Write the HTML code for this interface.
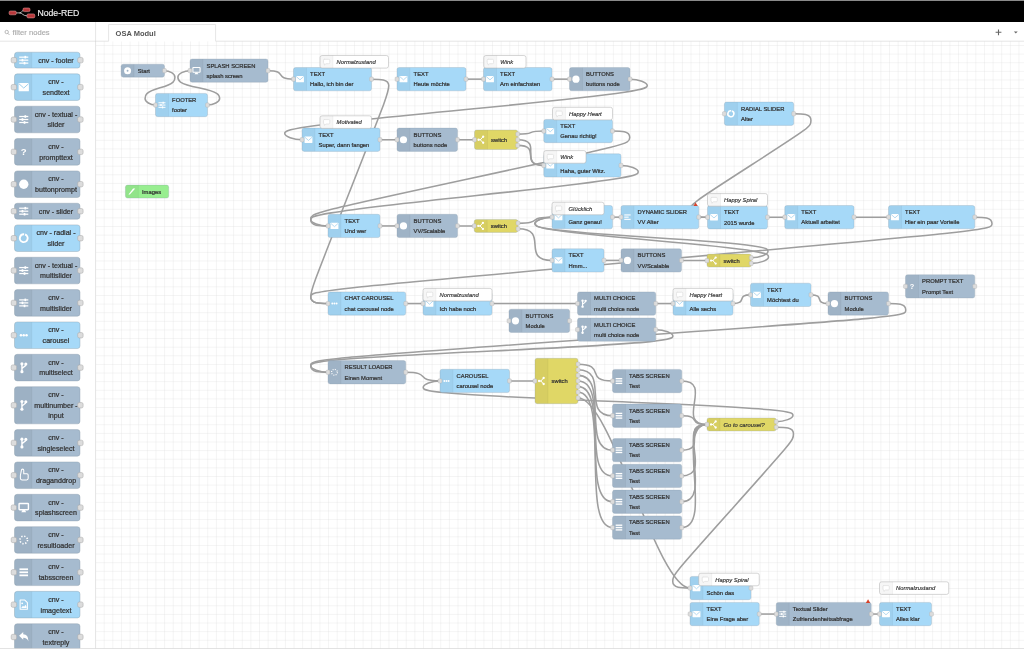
<!DOCTYPE html>
<html lang="de"><head><meta charset="utf-8"><title>Node-RED</title>
<style>html,body{margin:0;padding:0;background:#fff}body{width:1024px;height:649px;overflow:hidden;position:relative}svg{display:block;position:absolute;left:0;top:0}text{font-family:'Liberation Sans', sans-serif}.l{font-size:5.82px;fill:#333;stroke:#333;stroke-width:.24px}.li{font-size:5.82px;fill:#333;font-style:italic;stroke:#333;stroke-width:.16px}.p{font-size:7.1px;fill:#333;text-anchor:middle;stroke:#333;stroke-width:.24px}.n{stroke:#8a9aa8;stroke-opacity:.7;stroke-width:.4}.pt{fill:#dcdcdc;stroke:#aaa;stroke-width:.35}.w{fill:none;stroke:#9e9e9e;stroke-width:1.55}</style></head><body>
<svg width="1024" height="649" viewBox="0 0 1024 649">
<defs><pattern id="grid" x="95.07" y="45.0" width="8.63" height="8.62" patternUnits="userSpaceOnUse"><path d="M0 0H8.63M0 0V8.62" fill="none" stroke="#dedede" stroke-width=".6"/></pattern><filter id="soft" x="0" y="0" width="100%" height="100%" filterUnits="userSpaceOnUse" primitiveUnits="userSpaceOnUse"><feGaussianBlur stdDeviation="0.5"/></filter></defs>
<g filter="url(#soft)">
<rect x="0" y="0" width="1024" height="649" fill="#fff"/>
<rect x="96" y="41.3" width="928" height="608" fill="url(#grid)"/>
<g class="w">
<path d="M164.5 70.68C169.72 70.68 174.93 73.91 174.93 77.15S174.93 83.62 160 87.86S145.07 95.34 145.07 98.58S150.28 105.05 155.5 105.05"/>
<path d="M207.5 105.05C213.56 105.05 219.63 101.81 219.63 98.58S219.63 92.11 198.75 87.85S177.87 80.36 177.87 77.12S183.94 70.65 190 70.65"/>
<path d="M268 70.65C288.16 70.65 273.34 79.15 293.5 79.15"/>
<path d="M371.5 79.15C380.13 79.15 388.76 79.15 388.76 85.62S388.76 92.09 349.75 191.35S310.74 290.6 310.74 297.08S319.37 303.55 328 303.55"/>
<path d="M466 79.15C479.12 79.15 470.38 79.15 483.5 79.15"/>
<path d="M552 79.15C565.12 79.15 556.38 79.15 569.5 79.15"/>
<path d="M630 79.15C638.63 79.15 647.26 82.39 647.26 85.62S647.26 92.09 466 109.45S284.74 130.04 284.74 133.28S293.37 139.75 302 139.75"/>
<path d="M380 139.75C392.75 139.75 384.25 139.75 397 139.75"/>
<path d="M457.5 139.75C470.25 139.75 461.75 139.75 474.5 139.75"/>
<path d="M517.7 134.14C537.37 134.14 524.08 131.05 543.75 131.05"/>
<path d="M517.7 139.75C545.15 139.75 516.3 165.45 543.75 165.45"/>
<path d="M517.7 145.36C542.37 145.36 519.08 165.45 543.75 165.45"/>
<path d="M612.5 131.05C621.13 131.05 629.76 131.05 629.76 137.52S629.76 144 470.25 178.5S310.74 213.01 310.74 219.48S319.37 225.95 328 225.95"/>
<path d="M621 165.45C629.63 165.45 638.26 168.69 638.26 171.92S638.26 178.4 474.5 195.7S310.74 216.24 310.74 219.48S319.37 225.95 328 225.95"/>
<path d="M380 225.95C392.75 225.95 384.25 225.95 397 225.95"/>
<path d="M457.5 225.95C470.06 225.95 461.69 225.97 474.25 225.97"/>
<path d="M518 223.17C543.9 223.17 526.1 217.15 552 217.15"/>
<path d="M518 228.78C550.36 228.78 519.64 260.4 552 260.4"/>
<path d="M612.5 217.15C618.88 217.15 614.62 217.15 621 217.15"/>
<path d="M698.75 217.15C705.31 217.15 700.94 217.25 707.5 217.25"/>
<path d="M793.7 113.75C802.33 113.75 810.96 113.75 810.96 120.22S810.96 126.69 750.6 165.5S690.24 204.31 690.24 210.78S698.87 217.25 707.5 217.25"/>
<path d="M767.5 217.25C780.44 217.25 771.81 217.15 784.75 217.15"/>
<path d="M854 217.15C879.88 217.15 862.62 217.15 888.5 217.15"/>
<path d="M974.75 217.15C983.38 217.15 992.01 217.15 992.01 223.62S992.01 230.09 651.38 260.35S310.74 290.6 310.74 297.08S319.37 303.55 328 303.55"/>
<path d="M604 260.4C616.75 260.4 608.25 260.4 621 260.4"/>
<path d="M681.5 260.4C700.63 260.4 687.87 260.57 707 260.57"/>
<path d="M751.25 257.77C759.63 257.77 768 254.53 768 251.3S768 244.83 651.62 237.46S535.25 226.86 535.25 223.62S543.62 217.15 552 217.15"/>
<path d="M751.25 263.38C759.88 263.38 768.51 260.14 768.51 256.91S768.51 250.43 651.62 240.26S534.74 226.86 534.74 223.62S543.37 217.15 552 217.15"/>
<path d="M405.75 303.55C418.69 303.55 410.06 303.55 423 303.55"/>
<path d="M492 303.55C524.36 303.55 545.14 303.55 577.5 303.55"/>
<path d="M655.75 303.55C668.69 303.55 660.06 303.55 673 303.55"/>
<path d="M733 303.55C747.66 303.55 735.84 294.85 750.5 294.85"/>
<path d="M811 294.85C825.32 294.85 813.68 303.55 828 303.55"/>
<path d="M888.5 303.55C897.13 303.55 905.76 303.55 905.76 310.02S905.76 316.5 608.25 337.9S310.74 359.3 310.74 365.78S319.37 372.25 328 372.25"/>
<path d="M655.75 329.65C664.33 329.65 672.9 332.89 672.9 336.12S672.9 342.6 491.88 350.95S310.85 362.54 310.85 365.78S319.43 372.25 328 372.25"/>
<path d="M405.75 372.25C432.25 372.25 413.5 380.95 440 380.95"/>
<path d="M509.5 380.95C528.63 380.95 515.87 381 535 381"/>
<path d="M578 397.83C610.36 397.83 657.64 588.05 690 588.05"/>
<path d="M776.2 421.67C784.59 421.67 792.97 418.43 792.97 415.2S792.97 408.73 608.1 401.31S423.23 390.66 423.23 387.42S431.61 380.95 440 380.95"/>
<path d="M776.2 427.28C784.83 427.28 793.46 427.28 793.46 433.75S793.46 440.22 733.1 507.66S672.74 575.11 672.74 581.58S681.37 588.05 690 588.05"/>
<path d="M759.25 614.05C772 614.05 763.5 614.05 776.25 614.05"/>
<path d="M871.25 614.05C877.44 614.05 873.31 614.05 879.5 614.05"/>
<path d="M578 364.17C606.81 364.17 583.69 381.05 612.5 381.05"/>
<path d="M681.75 381.05C714.11 381.05 674.64 424.48 707 424.48"/>
<path d="M578 369.78C610.36 369.78 580.14 415.75 612.5 415.75"/>
<path d="M681.75 415.75C701.79 415.75 686.96 424.48 707 424.48"/>
<path d="M578 375.39C610.36 375.39 580.14 450.15 612.5 450.15"/>
<path d="M681.75 450.15C708.76 450.15 679.99 424.48 707 424.48"/>
<path d="M578 381C610.36 381 580.14 475.95 612.5 475.95"/>
<path d="M681.75 475.95C714.11 475.95 674.64 424.48 707 424.48"/>
<path d="M578 386.61C610.36 386.61 580.14 501.75 612.5 501.75"/>
<path d="M681.75 501.75C714.11 501.75 674.64 424.48 707 424.48"/>
<path d="M578 392.22C610.36 392.22 580.14 527.55 612.5 527.55"/>
<path d="M681.75 527.55C714.11 527.55 674.64 424.48 707 424.48"/>
</g>
<rect class="n" x="121.1" y="64.2" width="43.4" height="12.95" rx="2.1" fill="#a6bbcf"/>
<path d="M123.2 64.4h10.85v12.55h-10.85a2.1 2.1 0 0 1 -2.1 -2.1v-8.35a2.1 2.1 0 0 1 2.1 -2.1z" fill="#000" fill-opacity=".04"/>
<path d="M134.04 64.4v12.55" stroke="#000" stroke-opacity=".1" stroke-width=".45"/>
<circle cx="127.57" cy="70.68" r="3.5" fill="#fff"/><circle cx="127.57" cy="70.68" r="0.95" fill="#9db1c4"/>
<text class="l" x="137.7" y="72.78">Start</text>
<rect class="pt" x="162.55" y="68.53" width="3.9" height="4.3" rx="1.1"/>
<rect class="n" x="190" y="59" width="78" height="23.3" rx="2.1" fill="#a6bbcf"/>
<path d="M192.1 59.2h10.85v22.9h-10.85a2.1 2.1 0 0 1 -2.1 -2.1v-18.7a2.1 2.1 0 0 1 2.1 -2.1z" fill="#000" fill-opacity=".04"/>
<path d="M202.94 59.2v22.9" stroke="#000" stroke-opacity=".1" stroke-width=".45"/>
<rect x="192.87" y="67.45" width="7.2" height="4.8" rx="0.5" fill="none" stroke="#fff" stroke-width="1.1"/><path d="M195.57 72.55L197.37 72.55L198.37 74.25L194.57 74.25Z" fill="#fff"/>
<text class="l" x="206.6" y="67.55">SPLASH SCREEN</text>
<text class="l" x="206.6" y="77.95">splash screen</text>
<rect class="pt" x="188.05" y="68.5" width="3.9" height="4.3" rx="1.1"/>
<rect class="pt" x="266.05" y="68.5" width="3.9" height="4.3" rx="1.1"/>
<rect class="n" x="155.5" y="93.4" width="52" height="23.3" rx="2.1" fill="#a6d9f8"/>
<path d="M157.6 93.6h10.85v22.9h-10.85a2.1 2.1 0 0 1 -2.1 -2.1v-18.7a2.1 2.1 0 0 1 2.1 -2.1z" fill="#000" fill-opacity=".04"/>
<path d="M168.44 93.6v22.9" stroke="#000" stroke-opacity=".1" stroke-width=".45"/>
<path d="M158.47 102.75H165.47" stroke="#fff" stroke-width="0.95"/><rect x="162.52" y="101.75" width="1.3" height="2" fill="#fff"/><path d="M158.47 105.05H165.47" stroke="#fff" stroke-width="0.95"/><rect x="160.32" y="104.05" width="1.3" height="2" fill="#fff"/><path d="M158.47 107.35H165.47" stroke="#fff" stroke-width="0.95"/><rect x="161.92" y="106.35" width="1.3" height="2" fill="#fff"/>
<text class="l" x="172.1" y="101.95">FOOTER</text>
<text class="l" x="172.1" y="112.35">footer</text>
<rect class="pt" x="153.55" y="102.9" width="3.9" height="4.3" rx="1.1"/>
<rect class="pt" x="205.55" y="102.9" width="3.9" height="4.3" rx="1.1"/>
<rect class="n" x="293.5" y="67.5" width="78" height="23.3" rx="2.1" fill="#a6d9f8"/>
<path d="M295.6 67.7h10.85v22.9h-10.85a2.1 2.1 0 0 1 -2.1 -2.1v-18.7a2.1 2.1 0 0 1 2.1 -2.1z" fill="#000" fill-opacity=".04"/>
<path d="M306.44 67.7v22.9" stroke="#000" stroke-opacity=".1" stroke-width=".45"/>
<rect x="296.02" y="76" width="7.9" height="6.3" rx="0.4" fill="#fff"/><path d="M296.22 76.5L299.97 79.85L303.72 76.5" fill="none" stroke="#9dceeb" stroke-width="0.75"/>
<text class="l" x="310.1" y="76.05">TEXT</text>
<text class="l" x="310.1" y="86.45">Hallo, ich bin der</text>
<rect class="pt" x="291.55" y="77" width="3.9" height="4.3" rx="1.1"/>
<rect class="pt" x="369.55" y="77" width="3.9" height="4.3" rx="1.1"/>
<rect class="n" x="397" y="67.5" width="69" height="23.3" rx="2.1" fill="#a6d9f8"/>
<path d="M399.1 67.7h10.85v22.9h-10.85a2.1 2.1 0 0 1 -2.1 -2.1v-18.7a2.1 2.1 0 0 1 2.1 -2.1z" fill="#000" fill-opacity=".04"/>
<path d="M409.94 67.7v22.9" stroke="#000" stroke-opacity=".1" stroke-width=".45"/>
<rect x="399.52" y="76" width="7.9" height="6.3" rx="0.4" fill="#fff"/><path d="M399.72 76.5L403.47 79.85L407.22 76.5" fill="none" stroke="#9dceeb" stroke-width="0.75"/>
<text class="l" x="413.6" y="76.05">TEXT</text>
<text class="l" x="413.6" y="86.45">Heute möchte</text>
<rect class="pt" x="395.05" y="77" width="3.9" height="4.3" rx="1.1"/>
<rect class="pt" x="464.05" y="77" width="3.9" height="4.3" rx="1.1"/>
<rect class="n" x="483.5" y="67.5" width="68.5" height="23.3" rx="2.1" fill="#a6d9f8"/>
<path d="M485.6 67.7h10.85v22.9h-10.85a2.1 2.1 0 0 1 -2.1 -2.1v-18.7a2.1 2.1 0 0 1 2.1 -2.1z" fill="#000" fill-opacity=".04"/>
<path d="M496.44 67.7v22.9" stroke="#000" stroke-opacity=".1" stroke-width=".45"/>
<rect x="486.02" y="76" width="7.9" height="6.3" rx="0.4" fill="#fff"/><path d="M486.22 76.5L489.97 79.85L493.72 76.5" fill="none" stroke="#9dceeb" stroke-width="0.75"/>
<text class="l" x="500.1" y="76.05">TEXT</text>
<text class="l" x="500.1" y="86.45">Am einfachsten</text>
<rect class="pt" x="481.55" y="77" width="3.9" height="4.3" rx="1.1"/>
<rect class="pt" x="550.05" y="77" width="3.9" height="4.3" rx="1.1"/>
<rect class="n" x="569.5" y="67.5" width="60.5" height="23.3" rx="2.1" fill="#a6bbcf"/>
<path d="M571.6 67.7h10.85v22.9h-10.85a2.1 2.1 0 0 1 -2.1 -2.1v-18.7a2.1 2.1 0 0 1 2.1 -2.1z" fill="#000" fill-opacity=".04"/>
<path d="M582.45 67.7v22.9" stroke="#000" stroke-opacity=".1" stroke-width=".45"/>
<circle cx="575.97" cy="79.15" r="3.6" fill="#fff"/>
<text class="l" x="586.1" y="76.05">BUTTONS</text>
<text class="l" x="586.1" y="86.45">buttons node</text>
<rect class="pt" x="567.55" y="77" width="3.9" height="4.3" rx="1.1"/>
<rect class="pt" x="628.05" y="77" width="3.9" height="4.3" rx="1.1"/>
<rect class="n" x="302" y="128.1" width="78" height="23.3" rx="2.1" fill="#a6d9f8"/>
<path d="M304.1 128.3h10.85v22.9h-10.85a2.1 2.1 0 0 1 -2.1 -2.1v-18.7a2.1 2.1 0 0 1 2.1 -2.1z" fill="#000" fill-opacity=".04"/>
<path d="M314.94 128.3v22.9" stroke="#000" stroke-opacity=".1" stroke-width=".45"/>
<rect x="304.52" y="136.6" width="7.9" height="6.3" rx="0.4" fill="#fff"/><path d="M304.72 137.1L308.47 140.45L312.22 137.1" fill="none" stroke="#9dceeb" stroke-width="0.75"/>
<text class="l" x="318.6" y="136.65">TEXT</text>
<text class="l" x="318.6" y="147.05">Super, dann fangen</text>
<rect class="pt" x="300.05" y="137.6" width="3.9" height="4.3" rx="1.1"/>
<rect class="pt" x="378.05" y="137.6" width="3.9" height="4.3" rx="1.1"/>
<rect class="n" x="397" y="128.1" width="60.5" height="23.3" rx="2.1" fill="#a6bbcf"/>
<path d="M399.1 128.3h10.85v22.9h-10.85a2.1 2.1 0 0 1 -2.1 -2.1v-18.7a2.1 2.1 0 0 1 2.1 -2.1z" fill="#000" fill-opacity=".04"/>
<path d="M409.94 128.3v22.9" stroke="#000" stroke-opacity=".1" stroke-width=".45"/>
<circle cx="403.47" cy="139.75" r="3.6" fill="#fff"/>
<text class="l" x="413.6" y="136.65">BUTTONS</text>
<text class="l" x="413.6" y="147.05">buttons node</text>
<rect class="pt" x="395.05" y="137.6" width="3.9" height="4.3" rx="1.1"/>
<rect class="pt" x="455.55" y="137.6" width="3.9" height="4.3" rx="1.1"/>
<rect class="n" x="474.5" y="130" width="43.2" height="19.5" rx="2.1" fill="#e0d766"/>
<path d="M476.6 130.2h10.85v19.1h-10.85a2.1 2.1 0 0 1 -2.1 -2.1v-14.9a2.1 2.1 0 0 1 2.1 -2.1z" fill="#000" fill-opacity=".04"/>
<path d="M487.44 130.2v19.1" stroke="#000" stroke-opacity=".1" stroke-width=".45"/>
<path d="M478.37 139.75L480.37 139.75M480.37 139.75L482.97 136.85M480.37 139.75L482.97 142.65" fill="none" stroke="#fff" stroke-width="1" stroke-linecap="round"/><circle cx="478.57" cy="139.75" r="1.15" fill="#fff"/><circle cx="483.17" cy="136.75" r="1.15" fill="#fff"/><circle cx="483.17" cy="142.75" r="1.15" fill="#fff"/>
<text class="l" x="491.1" y="141.85">switch</text>
<rect class="pt" x="472.55" y="137.6" width="3.9" height="4.3" rx="1.1"/>
<rect class="pt" x="515.75" y="131.99" width="3.9" height="4.3" rx="1.1"/>
<rect class="pt" x="515.75" y="137.6" width="3.9" height="4.3" rx="1.1"/>
<rect class="pt" x="515.75" y="143.21" width="3.9" height="4.3" rx="1.1"/>
<rect class="n" x="543.75" y="119.4" width="68.75" height="23.3" rx="2.1" fill="#a6d9f8"/>
<path d="M545.85 119.6h10.85v22.9h-10.85a2.1 2.1 0 0 1 -2.1 -2.1v-18.7a2.1 2.1 0 0 1 2.1 -2.1z" fill="#000" fill-opacity=".04"/>
<path d="M556.7 119.6v22.9" stroke="#000" stroke-opacity=".1" stroke-width=".45"/>
<rect x="546.27" y="127.9" width="7.9" height="6.3" rx="0.4" fill="#fff"/><path d="M546.47 128.4L550.22 131.75L553.97 128.4" fill="none" stroke="#9dceeb" stroke-width="0.75"/>
<text class="l" x="560.35" y="127.95">TEXT</text>
<text class="l" x="560.35" y="138.35">Genau richtig!</text>
<rect class="pt" x="541.8" y="128.9" width="3.9" height="4.3" rx="1.1"/>
<rect class="pt" x="610.55" y="128.9" width="3.9" height="4.3" rx="1.1"/>
<rect class="n" x="543.75" y="153.8" width="77.25" height="23.3" rx="2.1" fill="#a6d9f8"/>
<path d="M545.85 154h10.85v22.9h-10.85a2.1 2.1 0 0 1 -2.1 -2.1v-18.7a2.1 2.1 0 0 1 2.1 -2.1z" fill="#000" fill-opacity=".04"/>
<path d="M556.7 154v22.9" stroke="#000" stroke-opacity=".1" stroke-width=".45"/>
<rect x="546.27" y="162.3" width="7.9" height="6.3" rx="0.4" fill="#fff"/><path d="M546.47 162.8L550.22 166.15L553.97 162.8" fill="none" stroke="#9dceeb" stroke-width="0.75"/>
<text class="l" x="560.35" y="162.35">TEXT</text>
<text class="l" x="560.35" y="172.75">Haha, guter Witz.</text>
<rect class="pt" x="541.8" y="163.3" width="3.9" height="4.3" rx="1.1"/>
<rect class="pt" x="619.05" y="163.3" width="3.9" height="4.3" rx="1.1"/>
<rect class="n" x="724.4" y="102.1" width="69.3" height="23.3" rx="2.1" fill="#a6d9f8"/>
<path d="M726.5 102.3h10.85v22.9h-10.85a2.1 2.1 0 0 1 -2.1 -2.1v-18.7a2.1 2.1 0 0 1 2.1 -2.1z" fill="#000" fill-opacity=".04"/>
<path d="M737.35 102.3v22.9" stroke="#000" stroke-opacity=".1" stroke-width=".45"/>
<circle cx="730.87" cy="113.75" r="3" fill="none" stroke="#fff" stroke-width="1.5" stroke-dasharray="17.6 1.25" transform="rotate(-70 730.87 113.75)"/>
<text class="l" x="741" y="110.65">RADIAL SLIDER</text>
<text class="l" x="741" y="121.05">Alter</text>
<rect class="pt" x="722.45" y="111.6" width="3.9" height="4.3" rx="1.1"/>
<rect class="pt" x="791.75" y="111.6" width="3.9" height="4.3" rx="1.1"/>
<rect class="n" x="125.4" y="185.1" width="43.3" height="12.95" rx="2.1" fill="#98ee90"/>
<path d="M127.5 185.3h10.85v12.55h-10.85a2.1 2.1 0 0 1 -2.1 -2.1v-8.35a2.1 2.1 0 0 1 2.1 -2.1z" fill="#000" fill-opacity=".04"/>
<path d="M138.34 185.3v12.55" stroke="#000" stroke-opacity=".1" stroke-width=".45"/>
<path d="M128.47 194.57L133.07 188.57L135.27 188.57L129.87 194.57Z" fill="#fff"/>
<text class="l" x="142" y="193.67">Images</text>
<rect class="n" x="328" y="214.3" width="52" height="23.3" rx="2.1" fill="#a6d9f8"/>
<path d="M330.1 214.5h10.85v22.9h-10.85a2.1 2.1 0 0 1 -2.1 -2.1v-18.7a2.1 2.1 0 0 1 2.1 -2.1z" fill="#000" fill-opacity=".04"/>
<path d="M340.94 214.5v22.9" stroke="#000" stroke-opacity=".1" stroke-width=".45"/>
<rect x="330.52" y="222.8" width="7.9" height="6.3" rx="0.4" fill="#fff"/><path d="M330.72 223.3L334.47 226.65L338.22 223.3" fill="none" stroke="#9dceeb" stroke-width="0.75"/>
<text class="l" x="344.6" y="222.85">TEXT</text>
<text class="l" x="344.6" y="233.25">Und wer</text>
<rect class="pt" x="326.05" y="223.8" width="3.9" height="4.3" rx="1.1"/>
<rect class="pt" x="378.05" y="223.8" width="3.9" height="4.3" rx="1.1"/>
<rect class="n" x="397" y="214.3" width="60.5" height="23.3" rx="2.1" fill="#a6bbcf"/>
<path d="M399.1 214.5h10.85v22.9h-10.85a2.1 2.1 0 0 1 -2.1 -2.1v-18.7a2.1 2.1 0 0 1 2.1 -2.1z" fill="#000" fill-opacity=".04"/>
<path d="M409.94 214.5v22.9" stroke="#000" stroke-opacity=".1" stroke-width=".45"/>
<circle cx="403.47" cy="225.95" r="3.6" fill="#fff"/>
<text class="l" x="413.6" y="222.85">BUTTONS</text>
<text class="l" x="413.6" y="233.25">VV/Scalable</text>
<rect class="pt" x="395.05" y="223.8" width="3.9" height="4.3" rx="1.1"/>
<rect class="pt" x="455.55" y="223.8" width="3.9" height="4.3" rx="1.1"/>
<rect class="n" x="474.25" y="219.5" width="43.75" height="12.95" rx="2.1" fill="#e0d766"/>
<path d="M476.35 219.7h10.85v12.55h-10.85a2.1 2.1 0 0 1 -2.1 -2.1v-8.35a2.1 2.1 0 0 1 2.1 -2.1z" fill="#000" fill-opacity=".04"/>
<path d="M487.19 219.7v12.55" stroke="#000" stroke-opacity=".1" stroke-width=".45"/>
<path d="M478.12 225.97L480.12 225.97M480.12 225.97L482.72 223.07M480.12 225.97L482.72 228.88" fill="none" stroke="#fff" stroke-width="1" stroke-linecap="round"/><circle cx="478.32" cy="225.97" r="1.15" fill="#fff"/><circle cx="482.92" cy="222.97" r="1.15" fill="#fff"/><circle cx="482.92" cy="228.97" r="1.15" fill="#fff"/>
<text class="l" x="490.85" y="228.07">switch</text>
<rect class="pt" x="472.3" y="223.82" width="3.9" height="4.3" rx="1.1"/>
<rect class="pt" x="516.05" y="221.02" width="3.9" height="4.3" rx="1.1"/>
<rect class="pt" x="516.05" y="226.63" width="3.9" height="4.3" rx="1.1"/>
<rect class="n" x="552" y="205.5" width="60.5" height="23.3" rx="2.1" fill="#a6d9f8"/>
<path d="M554.1 205.7h10.85v22.9h-10.85a2.1 2.1 0 0 1 -2.1 -2.1v-18.7a2.1 2.1 0 0 1 2.1 -2.1z" fill="#000" fill-opacity=".04"/>
<path d="M564.95 205.7v22.9" stroke="#000" stroke-opacity=".1" stroke-width=".45"/>
<rect x="554.52" y="214" width="7.9" height="6.3" rx="0.4" fill="#fff"/><path d="M554.72 214.5L558.47 217.85L562.22 214.5" fill="none" stroke="#9dceeb" stroke-width="0.75"/>
<text class="l" x="568.6" y="214.05">TEXT</text>
<text class="l" x="568.6" y="224.45">Ganz genau!</text>
<rect class="pt" x="550.05" y="215" width="3.9" height="4.3" rx="1.1"/>
<rect class="pt" x="610.55" y="215" width="3.9" height="4.3" rx="1.1"/>
<rect class="n" x="621" y="205.5" width="77.75" height="23.3" rx="2.1" fill="#a6d9f8"/>
<path d="M623.1 205.7h10.85v22.9h-10.85a2.1 2.1 0 0 1 -2.1 -2.1v-18.7a2.1 2.1 0 0 1 2.1 -2.1z" fill="#000" fill-opacity=".04"/>
<path d="M633.95 205.7v22.9" stroke="#000" stroke-opacity=".1" stroke-width=".45"/>
<path d="M624.27 214.95h6.4" stroke="#fff" stroke-width="1.1"/><path d="M624.27 217.15h4.4" stroke="#fff" stroke-width="1.1"/><path d="M624.27 219.35h6.4" stroke="#fff" stroke-width="1.1"/>
<text class="l" x="637.6" y="214.05">DYNAMIC SLIDER</text>
<text class="l" x="637.6" y="224.45">VV Alter</text>
<rect class="pt" x="619.05" y="215" width="3.9" height="4.3" rx="1.1"/>
<rect class="pt" x="696.8" y="215" width="3.9" height="4.3" rx="1.1"/>
<path d="M693.35 206l2.2 -3.6l2.2 3.6z" fill="#d7432a"/>
<rect class="n" x="707.5" y="205.6" width="60" height="23.3" rx="2.1" fill="#a6d9f8"/>
<path d="M709.6 205.8h10.85v22.9h-10.85a2.1 2.1 0 0 1 -2.1 -2.1v-18.7a2.1 2.1 0 0 1 2.1 -2.1z" fill="#000" fill-opacity=".04"/>
<path d="M720.45 205.8v22.9" stroke="#000" stroke-opacity=".1" stroke-width=".45"/>
<rect x="710.02" y="214.1" width="7.9" height="6.3" rx="0.4" fill="#fff"/><path d="M710.22 214.6L713.97 217.95L717.72 214.6" fill="none" stroke="#9dceeb" stroke-width="0.75"/>
<text class="l" x="724.1" y="214.15">TEXT</text>
<text class="l" x="724.1" y="224.55">2015 wurde</text>
<rect class="pt" x="705.55" y="215.1" width="3.9" height="4.3" rx="1.1"/>
<rect class="pt" x="765.55" y="215.1" width="3.9" height="4.3" rx="1.1"/>
<rect class="n" x="784.75" y="205.5" width="69.25" height="23.3" rx="2.1" fill="#a6d9f8"/>
<path d="M786.85 205.7h10.85v22.9h-10.85a2.1 2.1 0 0 1 -2.1 -2.1v-18.7a2.1 2.1 0 0 1 2.1 -2.1z" fill="#000" fill-opacity=".04"/>
<path d="M797.7 205.7v22.9" stroke="#000" stroke-opacity=".1" stroke-width=".45"/>
<rect x="787.27" y="214" width="7.9" height="6.3" rx="0.4" fill="#fff"/><path d="M787.47 214.5L791.22 217.85L794.97 214.5" fill="none" stroke="#9dceeb" stroke-width="0.75"/>
<text class="l" x="801.35" y="214.05">TEXT</text>
<text class="l" x="801.35" y="224.45">Aktuell arbeitet</text>
<rect class="pt" x="782.8" y="215" width="3.9" height="4.3" rx="1.1"/>
<rect class="pt" x="852.05" y="215" width="3.9" height="4.3" rx="1.1"/>
<rect class="n" x="888.5" y="205.5" width="86.25" height="23.3" rx="2.1" fill="#a6d9f8"/>
<path d="M890.6 205.7h10.85v22.9h-10.85a2.1 2.1 0 0 1 -2.1 -2.1v-18.7a2.1 2.1 0 0 1 2.1 -2.1z" fill="#000" fill-opacity=".04"/>
<path d="M901.45 205.7v22.9" stroke="#000" stroke-opacity=".1" stroke-width=".45"/>
<rect x="891.02" y="214" width="7.9" height="6.3" rx="0.4" fill="#fff"/><path d="M891.22 214.5L894.97 217.85L898.72 214.5" fill="none" stroke="#9dceeb" stroke-width="0.75"/>
<text class="l" x="905.1" y="214.05">TEXT</text>
<text class="l" x="905.1" y="224.45">Hier ein paar Vorteile</text>
<rect class="pt" x="886.55" y="215" width="3.9" height="4.3" rx="1.1"/>
<rect class="pt" x="972.8" y="215" width="3.9" height="4.3" rx="1.1"/>
<rect class="n" x="552" y="248.75" width="52" height="23.3" rx="2.1" fill="#a6d9f8"/>
<path d="M554.1 248.95h10.85v22.9h-10.85a2.1 2.1 0 0 1 -2.1 -2.1v-18.7a2.1 2.1 0 0 1 2.1 -2.1z" fill="#000" fill-opacity=".04"/>
<path d="M564.95 248.95v22.9" stroke="#000" stroke-opacity=".1" stroke-width=".45"/>
<rect x="554.52" y="257.25" width="7.9" height="6.3" rx="0.4" fill="#fff"/><path d="M554.72 257.75L558.47 261.1L562.22 257.75" fill="none" stroke="#9dceeb" stroke-width="0.75"/>
<text class="l" x="568.6" y="257.3">TEXT</text>
<text class="l" x="568.6" y="267.7">Hmm...</text>
<rect class="pt" x="550.05" y="258.25" width="3.9" height="4.3" rx="1.1"/>
<rect class="pt" x="602.05" y="258.25" width="3.9" height="4.3" rx="1.1"/>
<rect class="n" x="621" y="248.75" width="60.5" height="23.3" rx="2.1" fill="#a6bbcf"/>
<path d="M623.1 248.95h10.85v22.9h-10.85a2.1 2.1 0 0 1 -2.1 -2.1v-18.7a2.1 2.1 0 0 1 2.1 -2.1z" fill="#000" fill-opacity=".04"/>
<path d="M633.95 248.95v22.9" stroke="#000" stroke-opacity=".1" stroke-width=".45"/>
<circle cx="627.47" cy="260.4" r="3.6" fill="#fff"/>
<text class="l" x="637.6" y="257.3">BUTTONS</text>
<text class="l" x="637.6" y="267.7">VV/Scalable</text>
<rect class="pt" x="619.05" y="258.25" width="3.9" height="4.3" rx="1.1"/>
<rect class="pt" x="679.55" y="258.25" width="3.9" height="4.3" rx="1.1"/>
<rect class="n" x="707" y="254.1" width="44.25" height="12.95" rx="2.1" fill="#e0d766"/>
<path d="M709.1 254.3h10.85v12.55h-10.85a2.1 2.1 0 0 1 -2.1 -2.1v-8.35a2.1 2.1 0 0 1 2.1 -2.1z" fill="#000" fill-opacity=".04"/>
<path d="M719.95 254.3v12.55" stroke="#000" stroke-opacity=".1" stroke-width=".45"/>
<path d="M710.87 260.57L712.87 260.57M712.87 260.57L715.47 257.68M712.87 260.57L715.47 263.47" fill="none" stroke="#fff" stroke-width="1" stroke-linecap="round"/><circle cx="711.07" cy="260.57" r="1.15" fill="#fff"/><circle cx="715.67" cy="257.57" r="1.15" fill="#fff"/><circle cx="715.67" cy="263.57" r="1.15" fill="#fff"/>
<text class="l" x="723.6" y="262.68">switch</text>
<rect class="pt" x="705.05" y="258.43" width="3.9" height="4.3" rx="1.1"/>
<rect class="pt" x="749.3" y="255.62" width="3.9" height="4.3" rx="1.1"/>
<rect class="pt" x="749.3" y="261.23" width="3.9" height="4.3" rx="1.1"/>
<rect class="n" x="328" y="291.9" width="77.75" height="23.3" rx="2.1" fill="#a6d9f8"/>
<path d="M330.1 292.1h10.85v22.9h-10.85a2.1 2.1 0 0 1 -2.1 -2.1v-18.7a2.1 2.1 0 0 1 2.1 -2.1z" fill="#000" fill-opacity=".04"/>
<path d="M340.94 292.1v22.9" stroke="#000" stroke-opacity=".1" stroke-width=".45"/>
<circle cx="332.32" cy="303.55" r="0.95" fill="#fff"/><circle cx="334.47" cy="303.55" r="0.95" fill="#fff"/><circle cx="336.62" cy="303.55" r="0.95" fill="#fff"/>
<text class="l" x="344.6" y="300.45">CHAT CAROUSEL</text>
<text class="l" x="344.6" y="310.85">chat carousel node</text>
<rect class="pt" x="326.05" y="301.4" width="3.9" height="4.3" rx="1.1"/>
<rect class="pt" x="403.8" y="301.4" width="3.9" height="4.3" rx="1.1"/>
<rect class="n" x="423" y="291.9" width="69" height="23.3" rx="2.1" fill="#a6d9f8"/>
<path d="M425.1 292.1h10.85v22.9h-10.85a2.1 2.1 0 0 1 -2.1 -2.1v-18.7a2.1 2.1 0 0 1 2.1 -2.1z" fill="#000" fill-opacity=".04"/>
<path d="M435.94 292.1v22.9" stroke="#000" stroke-opacity=".1" stroke-width=".45"/>
<rect x="425.52" y="300.4" width="7.9" height="6.3" rx="0.4" fill="#fff"/><path d="M425.72 300.9L429.47 304.25L433.22 300.9" fill="none" stroke="#9dceeb" stroke-width="0.75"/>
<text class="l" x="439.6" y="300.45">TEXT</text>
<text class="l" x="439.6" y="310.85">Ich habe noch</text>
<rect class="pt" x="421.05" y="301.4" width="3.9" height="4.3" rx="1.1"/>
<rect class="pt" x="490.05" y="301.4" width="3.9" height="4.3" rx="1.1"/>
<rect class="n" x="509" y="309.2" width="60.6" height="23.3" rx="2.1" fill="#a6bbcf"/>
<path d="M511.1 309.4h10.85v22.9h-10.85a2.1 2.1 0 0 1 -2.1 -2.1v-18.7a2.1 2.1 0 0 1 2.1 -2.1z" fill="#000" fill-opacity=".04"/>
<path d="M521.95 309.4v22.9" stroke="#000" stroke-opacity=".1" stroke-width=".45"/>
<circle cx="515.47" cy="320.85" r="3.6" fill="#fff"/>
<text class="l" x="525.6" y="317.75">BUTTONS</text>
<text class="l" x="525.6" y="328.15">Module</text>
<rect class="pt" x="507.05" y="318.7" width="3.9" height="4.3" rx="1.1"/>
<rect class="pt" x="567.65" y="318.7" width="3.9" height="4.3" rx="1.1"/>
<rect class="n" x="577.5" y="291.9" width="78.25" height="23.3" rx="2.1" fill="#a6bbcf"/>
<path d="M579.6 292.1h10.85v22.9h-10.85a2.1 2.1 0 0 1 -2.1 -2.1v-18.7a2.1 2.1 0 0 1 2.1 -2.1z" fill="#000" fill-opacity=".04"/>
<path d="M590.45 292.1v22.9" stroke="#000" stroke-opacity=".1" stroke-width=".45"/>
<path d="M582.57 300.55V306.85M585.57 300.95C585.57 303.35 582.57 302.95 582.57 304.55" fill="none" stroke="#fff" stroke-width="1.05"/><circle cx="582.57" cy="300.65" r="1.2" fill="#fff"/><circle cx="585.57" cy="300.85" r="1.2" fill="#fff"/><circle cx="582.57" cy="306.65" r="1.2" fill="#fff"/>
<text class="l" x="594.1" y="300.45">MULTI CHOICE</text>
<text class="l" x="594.1" y="310.85">multi choice node</text>
<rect class="pt" x="575.55" y="301.4" width="3.9" height="4.3" rx="1.1"/>
<rect class="pt" x="653.8" y="301.4" width="3.9" height="4.3" rx="1.1"/>
<rect class="n" x="577.5" y="318" width="78.25" height="23.3" rx="2.1" fill="#a6bbcf"/>
<path d="M579.6 318.2h10.85v22.9h-10.85a2.1 2.1 0 0 1 -2.1 -2.1v-18.7a2.1 2.1 0 0 1 2.1 -2.1z" fill="#000" fill-opacity=".04"/>
<path d="M590.45 318.2v22.9" stroke="#000" stroke-opacity=".1" stroke-width=".45"/>
<path d="M582.57 326.65V332.95M585.57 327.05C585.57 329.45 582.57 329.05 582.57 330.65" fill="none" stroke="#fff" stroke-width="1.05"/><circle cx="582.57" cy="326.75" r="1.2" fill="#fff"/><circle cx="585.57" cy="326.95" r="1.2" fill="#fff"/><circle cx="582.57" cy="332.75" r="1.2" fill="#fff"/>
<text class="l" x="594.1" y="326.55">MULTI CHOICE</text>
<text class="l" x="594.1" y="336.95">multi choice node</text>
<rect class="pt" x="575.55" y="327.5" width="3.9" height="4.3" rx="1.1"/>
<rect class="pt" x="653.8" y="327.5" width="3.9" height="4.3" rx="1.1"/>
<rect class="n" x="673" y="291.9" width="60" height="23.3" rx="2.1" fill="#a6d9f8"/>
<path d="M675.1 292.1h10.85v22.9h-10.85a2.1 2.1 0 0 1 -2.1 -2.1v-18.7a2.1 2.1 0 0 1 2.1 -2.1z" fill="#000" fill-opacity=".04"/>
<path d="M685.95 292.1v22.9" stroke="#000" stroke-opacity=".1" stroke-width=".45"/>
<rect x="675.52" y="300.4" width="7.9" height="6.3" rx="0.4" fill="#fff"/><path d="M675.72 300.9L679.47 304.25L683.22 300.9" fill="none" stroke="#9dceeb" stroke-width="0.75"/>
<text class="l" x="689.6" y="300.45">TEXT</text>
<text class="l" x="689.6" y="310.85">Alle sechs</text>
<rect class="pt" x="671.05" y="301.4" width="3.9" height="4.3" rx="1.1"/>
<rect class="pt" x="731.05" y="301.4" width="3.9" height="4.3" rx="1.1"/>
<rect class="n" x="750.5" y="283.2" width="60.5" height="23.3" rx="2.1" fill="#a6d9f8"/>
<path d="M752.6 283.4h10.85v22.9h-10.85a2.1 2.1 0 0 1 -2.1 -2.1v-18.7a2.1 2.1 0 0 1 2.1 -2.1z" fill="#000" fill-opacity=".04"/>
<path d="M763.45 283.4v22.9" stroke="#000" stroke-opacity=".1" stroke-width=".45"/>
<rect x="753.02" y="291.7" width="7.9" height="6.3" rx="0.4" fill="#fff"/><path d="M753.22 292.2L756.97 295.55L760.72 292.2" fill="none" stroke="#9dceeb" stroke-width="0.75"/>
<text class="l" x="767.1" y="291.75">TEXT</text>
<text class="l" x="767.1" y="302.15">Möchtest du</text>
<rect class="pt" x="748.55" y="292.7" width="3.9" height="4.3" rx="1.1"/>
<rect class="pt" x="809.05" y="292.7" width="3.9" height="4.3" rx="1.1"/>
<rect class="n" x="828" y="291.9" width="60.5" height="23.3" rx="2.1" fill="#a6bbcf"/>
<path d="M830.1 292.1h10.85v22.9h-10.85a2.1 2.1 0 0 1 -2.1 -2.1v-18.7a2.1 2.1 0 0 1 2.1 -2.1z" fill="#000" fill-opacity=".04"/>
<path d="M840.95 292.1v22.9" stroke="#000" stroke-opacity=".1" stroke-width=".45"/>
<circle cx="834.47" cy="303.55" r="3.6" fill="#fff"/>
<text class="l" x="844.6" y="300.45">BUTTONS</text>
<text class="l" x="844.6" y="310.85">Module</text>
<rect class="pt" x="826.05" y="301.4" width="3.9" height="4.3" rx="1.1"/>
<rect class="pt" x="886.55" y="301.4" width="3.9" height="4.3" rx="1.1"/>
<rect class="n" x="905.5" y="274.7" width="69.25" height="23.3" rx="2.1" fill="#a6bbcf"/>
<path d="M907.6 274.9h10.85v22.9h-10.85a2.1 2.1 0 0 1 -2.1 -2.1v-18.7a2.1 2.1 0 0 1 2.1 -2.1z" fill="#000" fill-opacity=".04"/>
<path d="M918.45 274.9v22.9" stroke="#000" stroke-opacity=".1" stroke-width=".45"/>
<text x="911.97" y="288.95" font-size="7.4" font-weight="bold" fill="#fff" text-anchor="middle">?</text>
<text class="l" x="922.1" y="283.25">PROMPT TEXT</text>
<text class="l" x="922.1" y="293.65">Prompt Text</text>
<rect class="pt" x="903.55" y="284.2" width="3.9" height="4.3" rx="1.1"/>
<rect class="pt" x="972.8" y="284.2" width="3.9" height="4.3" rx="1.1"/>
<rect class="n" x="328" y="360.6" width="77.75" height="23.3" rx="2.1" fill="#a6bbcf"/>
<path d="M330.1 360.8h10.85v22.9h-10.85a2.1 2.1 0 0 1 -2.1 -2.1v-18.7a2.1 2.1 0 0 1 2.1 -2.1z" fill="#000" fill-opacity=".04"/>
<path d="M340.94 360.8v22.9" stroke="#000" stroke-opacity=".1" stroke-width=".45"/>
<circle cx="334.47" cy="372.25" r="2.9" fill="none" stroke="#fff" stroke-width="1.2" stroke-dasharray="1 1.28"/>
<text class="l" x="344.6" y="369.15">RESULT LOADER</text>
<text class="l" x="344.6" y="379.55">Einen Moment</text>
<rect class="pt" x="326.05" y="370.1" width="3.9" height="4.3" rx="1.1"/>
<rect class="pt" x="403.8" y="370.1" width="3.9" height="4.3" rx="1.1"/>
<rect class="n" x="440" y="369.3" width="69.5" height="23.3" rx="2.1" fill="#a6d9f8"/>
<path d="M442.1 369.5h10.85v22.9h-10.85a2.1 2.1 0 0 1 -2.1 -2.1v-18.7a2.1 2.1 0 0 1 2.1 -2.1z" fill="#000" fill-opacity=".04"/>
<path d="M452.94 369.5v22.9" stroke="#000" stroke-opacity=".1" stroke-width=".45"/>
<circle cx="444.32" cy="380.95" r="0.95" fill="#fff"/><circle cx="446.47" cy="380.95" r="0.95" fill="#fff"/><circle cx="448.62" cy="380.95" r="0.95" fill="#fff"/>
<text class="l" x="456.6" y="377.85">CAROUSEL</text>
<text class="l" x="456.6" y="388.25">carousel node</text>
<rect class="pt" x="438.05" y="378.8" width="3.9" height="4.3" rx="1.1"/>
<rect class="pt" x="507.55" y="378.8" width="3.9" height="4.3" rx="1.1"/>
<rect class="n" x="535" y="358.3" width="43" height="45.4" rx="2.1" fill="#e0d766"/>
<path d="M537.1 358.5h10.85v45h-10.85a2.1 2.1 0 0 1 -2.1 -2.1v-40.8a2.1 2.1 0 0 1 2.1 -2.1z" fill="#000" fill-opacity=".04"/>
<path d="M547.95 358.5v45" stroke="#000" stroke-opacity=".1" stroke-width=".45"/>
<path d="M538.87 381L540.87 381M540.87 381L543.47 378.1M540.87 381L543.47 383.9" fill="none" stroke="#fff" stroke-width="1" stroke-linecap="round"/><circle cx="539.07" cy="381" r="1.15" fill="#fff"/><circle cx="543.67" cy="378" r="1.15" fill="#fff"/><circle cx="543.67" cy="384" r="1.15" fill="#fff"/>
<text class="l" x="551.6" y="383.1">switch</text>
<rect class="pt" x="533.05" y="378.85" width="3.9" height="4.3" rx="1.1"/>
<rect class="pt" x="576.05" y="362.02" width="3.9" height="4.3" rx="1.1"/>
<rect class="pt" x="576.05" y="367.63" width="3.9" height="4.3" rx="1.1"/>
<rect class="pt" x="576.05" y="373.24" width="3.9" height="4.3" rx="1.1"/>
<rect class="pt" x="576.05" y="378.85" width="3.9" height="4.3" rx="1.1"/>
<rect class="pt" x="576.05" y="384.46" width="3.9" height="4.3" rx="1.1"/>
<rect class="pt" x="576.05" y="390.07" width="3.9" height="4.3" rx="1.1"/>
<rect class="pt" x="576.05" y="395.68" width="3.9" height="4.3" rx="1.1"/>
<rect class="n" x="612.5" y="369.4" width="69.25" height="23.3" rx="2.1" fill="#a6bbcf"/>
<path d="M614.6 369.6h10.85v22.9h-10.85a2.1 2.1 0 0 1 -2.1 -2.1v-18.7a2.1 2.1 0 0 1 2.1 -2.1z" fill="#000" fill-opacity=".04"/>
<path d="M625.45 369.6v22.9" stroke="#000" stroke-opacity=".1" stroke-width=".45"/>
<path d="M615.67 378.7h6.6" stroke="#fff" stroke-width="1.35"/><path d="M615.67 381.05h6.6" stroke="#fff" stroke-width="1.35"/><path d="M615.67 383.4h6.6" stroke="#fff" stroke-width="1.35"/>
<text class="l" x="629.1" y="377.95">TABS SCREEN</text>
<text class="l" x="629.1" y="388.35">Test</text>
<rect class="pt" x="610.55" y="378.9" width="3.9" height="4.3" rx="1.1"/>
<rect class="pt" x="679.8" y="378.9" width="3.9" height="4.3" rx="1.1"/>
<rect class="n" x="612.5" y="404.1" width="69.25" height="23.3" rx="2.1" fill="#a6bbcf"/>
<path d="M614.6 404.3h10.85v22.9h-10.85a2.1 2.1 0 0 1 -2.1 -2.1v-18.7a2.1 2.1 0 0 1 2.1 -2.1z" fill="#000" fill-opacity=".04"/>
<path d="M625.45 404.3v22.9" stroke="#000" stroke-opacity=".1" stroke-width=".45"/>
<path d="M615.67 413.4h6.6" stroke="#fff" stroke-width="1.35"/><path d="M615.67 415.75h6.6" stroke="#fff" stroke-width="1.35"/><path d="M615.67 418.1h6.6" stroke="#fff" stroke-width="1.35"/>
<text class="l" x="629.1" y="412.65">TABS SCREEN</text>
<text class="l" x="629.1" y="423.05">Test</text>
<rect class="pt" x="610.55" y="413.6" width="3.9" height="4.3" rx="1.1"/>
<rect class="pt" x="679.8" y="413.6" width="3.9" height="4.3" rx="1.1"/>
<rect class="n" x="612.5" y="438.5" width="69.25" height="23.3" rx="2.1" fill="#a6bbcf"/>
<path d="M614.6 438.7h10.85v22.9h-10.85a2.1 2.1 0 0 1 -2.1 -2.1v-18.7a2.1 2.1 0 0 1 2.1 -2.1z" fill="#000" fill-opacity=".04"/>
<path d="M625.45 438.7v22.9" stroke="#000" stroke-opacity=".1" stroke-width=".45"/>
<path d="M615.67 447.8h6.6" stroke="#fff" stroke-width="1.35"/><path d="M615.67 450.15h6.6" stroke="#fff" stroke-width="1.35"/><path d="M615.67 452.5h6.6" stroke="#fff" stroke-width="1.35"/>
<text class="l" x="629.1" y="447.05">TABS SCREEN</text>
<text class="l" x="629.1" y="457.45">Test</text>
<rect class="pt" x="610.55" y="448" width="3.9" height="4.3" rx="1.1"/>
<rect class="pt" x="679.8" y="448" width="3.9" height="4.3" rx="1.1"/>
<rect class="n" x="612.5" y="464.3" width="69.25" height="23.3" rx="2.1" fill="#a6bbcf"/>
<path d="M614.6 464.5h10.85v22.9h-10.85a2.1 2.1 0 0 1 -2.1 -2.1v-18.7a2.1 2.1 0 0 1 2.1 -2.1z" fill="#000" fill-opacity=".04"/>
<path d="M625.45 464.5v22.9" stroke="#000" stroke-opacity=".1" stroke-width=".45"/>
<path d="M615.67 473.6h6.6" stroke="#fff" stroke-width="1.35"/><path d="M615.67 475.95h6.6" stroke="#fff" stroke-width="1.35"/><path d="M615.67 478.3h6.6" stroke="#fff" stroke-width="1.35"/>
<text class="l" x="629.1" y="472.85">TABS SCREEN</text>
<text class="l" x="629.1" y="483.25">Test</text>
<rect class="pt" x="610.55" y="473.8" width="3.9" height="4.3" rx="1.1"/>
<rect class="pt" x="679.8" y="473.8" width="3.9" height="4.3" rx="1.1"/>
<rect class="n" x="612.5" y="490.1" width="69.25" height="23.3" rx="2.1" fill="#a6bbcf"/>
<path d="M614.6 490.3h10.85v22.9h-10.85a2.1 2.1 0 0 1 -2.1 -2.1v-18.7a2.1 2.1 0 0 1 2.1 -2.1z" fill="#000" fill-opacity=".04"/>
<path d="M625.45 490.3v22.9" stroke="#000" stroke-opacity=".1" stroke-width=".45"/>
<path d="M615.67 499.4h6.6" stroke="#fff" stroke-width="1.35"/><path d="M615.67 501.75h6.6" stroke="#fff" stroke-width="1.35"/><path d="M615.67 504.1h6.6" stroke="#fff" stroke-width="1.35"/>
<text class="l" x="629.1" y="498.65">TABS SCREEN</text>
<text class="l" x="629.1" y="509.05">Test</text>
<rect class="pt" x="610.55" y="499.6" width="3.9" height="4.3" rx="1.1"/>
<rect class="pt" x="679.8" y="499.6" width="3.9" height="4.3" rx="1.1"/>
<rect class="n" x="612.5" y="515.9" width="69.25" height="23.3" rx="2.1" fill="#a6bbcf"/>
<path d="M614.6 516.1h10.85v22.9h-10.85a2.1 2.1 0 0 1 -2.1 -2.1v-18.7a2.1 2.1 0 0 1 2.1 -2.1z" fill="#000" fill-opacity=".04"/>
<path d="M625.45 516.1v22.9" stroke="#000" stroke-opacity=".1" stroke-width=".45"/>
<path d="M615.67 525.2h6.6" stroke="#fff" stroke-width="1.35"/><path d="M615.67 527.55h6.6" stroke="#fff" stroke-width="1.35"/><path d="M615.67 529.9h6.6" stroke="#fff" stroke-width="1.35"/>
<text class="l" x="629.1" y="524.45">TABS SCREEN</text>
<text class="l" x="629.1" y="534.85">Test</text>
<rect class="pt" x="610.55" y="525.4" width="3.9" height="4.3" rx="1.1"/>
<rect class="pt" x="679.8" y="525.4" width="3.9" height="4.3" rx="1.1"/>
<rect class="n" x="707" y="418" width="69.2" height="12.95" rx="2.1" fill="#e0d766"/>
<path d="M709.1 418.2h10.85v12.55h-10.85a2.1 2.1 0 0 1 -2.1 -2.1v-8.35a2.1 2.1 0 0 1 2.1 -2.1z" fill="#000" fill-opacity=".04"/>
<path d="M719.95 418.2v12.55" stroke="#000" stroke-opacity=".1" stroke-width=".45"/>
<path d="M710.87 424.48L712.87 424.48M712.87 424.48L715.47 421.58M712.87 424.48L715.47 427.38" fill="none" stroke="#fff" stroke-width="1" stroke-linecap="round"/><circle cx="711.07" cy="424.48" r="1.15" fill="#fff"/><circle cx="715.67" cy="421.48" r="1.15" fill="#fff"/><circle cx="715.67" cy="427.48" r="1.15" fill="#fff"/>
<text class="li" x="723.6" y="426.58">Go to carousel?</text>
<rect class="pt" x="705.05" y="422.33" width="3.9" height="4.3" rx="1.1"/>
<rect class="pt" x="774.25" y="419.52" width="3.9" height="4.3" rx="1.1"/>
<rect class="pt" x="774.25" y="425.13" width="3.9" height="4.3" rx="1.1"/>
<rect class="n" x="690" y="576.4" width="61" height="23.3" rx="2.1" fill="#a6d9f8"/>
<path d="M692.1 576.6h10.85v22.9h-10.85a2.1 2.1 0 0 1 -2.1 -2.1v-18.7a2.1 2.1 0 0 1 2.1 -2.1z" fill="#000" fill-opacity=".04"/>
<path d="M702.95 576.6v22.9" stroke="#000" stroke-opacity=".1" stroke-width=".45"/>
<rect x="692.52" y="584.9" width="7.9" height="6.3" rx="0.4" fill="#fff"/><path d="M692.72 585.4L696.47 588.75L700.22 585.4" fill="none" stroke="#9dceeb" stroke-width="0.75"/>
<text class="l" x="706.6" y="584.95">TEXT</text>
<text class="l" x="706.6" y="595.35">Schön das</text>
<rect class="pt" x="688.05" y="585.9" width="3.9" height="4.3" rx="1.1"/>
<rect class="pt" x="749.05" y="585.9" width="3.9" height="4.3" rx="1.1"/>
<rect class="n" x="690" y="602.4" width="69.25" height="23.3" rx="2.1" fill="#a6d9f8"/>
<path d="M692.1 602.6h10.85v22.9h-10.85a2.1 2.1 0 0 1 -2.1 -2.1v-18.7a2.1 2.1 0 0 1 2.1 -2.1z" fill="#000" fill-opacity=".04"/>
<path d="M702.95 602.6v22.9" stroke="#000" stroke-opacity=".1" stroke-width=".45"/>
<rect x="692.52" y="610.9" width="7.9" height="6.3" rx="0.4" fill="#fff"/><path d="M692.72 611.4L696.47 614.75L700.22 611.4" fill="none" stroke="#9dceeb" stroke-width="0.75"/>
<text class="l" x="706.6" y="610.95">TEXT</text>
<text class="l" x="706.6" y="621.35">Eine Frage aber</text>
<rect class="pt" x="688.05" y="611.9" width="3.9" height="4.3" rx="1.1"/>
<rect class="pt" x="757.3" y="611.9" width="3.9" height="4.3" rx="1.1"/>
<rect class="n" x="776.25" y="602.4" width="95" height="23.3" rx="2.1" fill="#a6bbcf"/>
<path d="M778.35 602.6h10.85v22.9h-10.85a2.1 2.1 0 0 1 -2.1 -2.1v-18.7a2.1 2.1 0 0 1 2.1 -2.1z" fill="#000" fill-opacity=".04"/>
<path d="M789.2 602.6v22.9" stroke="#000" stroke-opacity=".1" stroke-width=".45"/>
<path d="M779.22 611.75H786.22" stroke="#fff" stroke-width="0.95"/><rect x="783.27" y="610.75" width="1.3" height="2" fill="#fff"/><path d="M779.22 614.05H786.22" stroke="#fff" stroke-width="0.95"/><rect x="781.07" y="613.05" width="1.3" height="2" fill="#fff"/><path d="M779.22 616.35H786.22" stroke="#fff" stroke-width="0.95"/><rect x="782.67" y="615.35" width="1.3" height="2" fill="#fff"/>
<text class="l" x="792.85" y="610.95">Textual Slider</text>
<text class="l" x="792.85" y="621.35">Zufriendenheitsabfrage</text>
<rect class="pt" x="774.3" y="611.9" width="3.9" height="4.3" rx="1.1"/>
<rect class="pt" x="869.3" y="611.9" width="3.9" height="4.3" rx="1.1"/>
<path d="M865.85 602.9l2.2 -3.6l2.2 3.6z" fill="#d7432a"/>
<rect class="n" x="879.5" y="602.4" width="52" height="23.3" rx="2.1" fill="#a6d9f8"/>
<path d="M881.6 602.6h10.85v22.9h-10.85a2.1 2.1 0 0 1 -2.1 -2.1v-18.7a2.1 2.1 0 0 1 2.1 -2.1z" fill="#000" fill-opacity=".04"/>
<path d="M892.45 602.6v22.9" stroke="#000" stroke-opacity=".1" stroke-width=".45"/>
<rect x="882.02" y="610.9" width="7.9" height="6.3" rx="0.4" fill="#fff"/><path d="M882.22 611.4L885.97 614.75L889.72 611.4" fill="none" stroke="#9dceeb" stroke-width="0.75"/>
<text class="l" x="896.1" y="610.95">TEXT</text>
<text class="l" x="896.1" y="621.35">Alles klar</text>
<rect class="pt" x="877.55" y="611.9" width="3.9" height="4.3" rx="1.1"/>
<rect class="pt" x="929.55" y="611.9" width="3.9" height="4.3" rx="1.1"/>
<rect class="n" x="320" y="55.5" width="68.5" height="12.6" rx="2.1" fill="#fff" style="stroke:#b4b4b4;stroke-opacity:1;stroke-width:.55"/>
<path d="M322.1 55.5h10.85v12.6h-10.85a2.1 2.1 0 0 1 -2.1 -2.1v-8.4a2.1 2.1 0 0 1 2.1 -2.1z" fill="#000" fill-opacity=".035"/>
<path d="M332.94 55.5v12.6" stroke="#000" stroke-opacity=".1" stroke-width=".45"/>
<path d="M324.17 59.3h4.6a1 1 0 0 1 1 1v2.4a1 1 0 0 1 -1 1h-2.8l-1.6 1.4v-1.4a0.9 0.9 0 0 1 -0.9 -0.9v-2.6a1 1 0 0 1 1 -1z" fill="#fff" stroke="#ddd" stroke-width="0.7"/>
<text class="li" x="336.6" y="63.9">Normalzustand</text>
<rect class="n" x="483.75" y="55.5" width="42.25" height="12.6" rx="2.1" fill="#fff" style="stroke:#b4b4b4;stroke-opacity:1;stroke-width:.55"/>
<path d="M485.85 55.5h10.85v12.6h-10.85a2.1 2.1 0 0 1 -2.1 -2.1v-8.4a2.1 2.1 0 0 1 2.1 -2.1z" fill="#000" fill-opacity=".035"/>
<path d="M496.69 55.5v12.6" stroke="#000" stroke-opacity=".1" stroke-width=".45"/>
<path d="M487.92 59.3h4.6a1 1 0 0 1 1 1v2.4a1 1 0 0 1 -1 1h-2.8l-1.6 1.4v-1.4a0.9 0.9 0 0 1 -0.9 -0.9v-2.6a1 1 0 0 1 1 -1z" fill="#fff" stroke="#ddd" stroke-width="0.7"/>
<text class="li" x="500.35" y="63.9">Wink</text>
<rect class="n" x="320" y="115.8" width="51.5" height="12.6" rx="2.1" fill="#fff" style="stroke:#b4b4b4;stroke-opacity:1;stroke-width:.55"/>
<path d="M322.1 115.8h10.85v12.6h-10.85a2.1 2.1 0 0 1 -2.1 -2.1v-8.4a2.1 2.1 0 0 1 2.1 -2.1z" fill="#000" fill-opacity=".035"/>
<path d="M332.94 115.8v12.6" stroke="#000" stroke-opacity=".1" stroke-width=".45"/>
<path d="M324.17 119.6h4.6a1 1 0 0 1 1 1v2.4a1 1 0 0 1 -1 1h-2.8l-1.6 1.4v-1.4a0.9 0.9 0 0 1 -0.9 -0.9v-2.6a1 1 0 0 1 1 -1z" fill="#fff" stroke="#ddd" stroke-width="0.7"/>
<text class="li" x="336.6" y="124.2">Motivated</text>
<rect class="n" x="552.5" y="107.3" width="60" height="12.6" rx="2.1" fill="#fff" style="stroke:#b4b4b4;stroke-opacity:1;stroke-width:.55"/>
<path d="M554.6 107.3h10.85v12.6h-10.85a2.1 2.1 0 0 1 -2.1 -2.1v-8.4a2.1 2.1 0 0 1 2.1 -2.1z" fill="#000" fill-opacity=".035"/>
<path d="M565.45 107.3v12.6" stroke="#000" stroke-opacity=".1" stroke-width=".45"/>
<path d="M556.67 111.1h4.6a1 1 0 0 1 1 1v2.4a1 1 0 0 1 -1 1h-2.8l-1.6 1.4v-1.4a0.9 0.9 0 0 1 -0.9 -0.9v-2.6a1 1 0 0 1 1 -1z" fill="#fff" stroke="#ddd" stroke-width="0.7"/>
<text class="li" x="569.1" y="115.7">Happy Heart</text>
<rect class="n" x="543.75" y="150.6" width="42.25" height="12.6" rx="2.1" fill="#fff" style="stroke:#b4b4b4;stroke-opacity:1;stroke-width:.55"/>
<path d="M545.85 150.6h10.85v12.6h-10.85a2.1 2.1 0 0 1 -2.1 -2.1v-8.4a2.1 2.1 0 0 1 2.1 -2.1z" fill="#000" fill-opacity=".035"/>
<path d="M556.7 150.6v12.6" stroke="#000" stroke-opacity=".1" stroke-width=".45"/>
<path d="M547.92 154.4h4.6a1 1 0 0 1 1 1v2.4a1 1 0 0 1 -1 1h-2.8l-1.6 1.4v-1.4a0.9 0.9 0 0 1 -0.9 -0.9v-2.6a1 1 0 0 1 1 -1z" fill="#fff" stroke="#ddd" stroke-width="0.7"/>
<text class="li" x="560.35" y="159">Wink</text>
<rect class="n" x="552" y="202.2" width="52" height="12.6" rx="2.1" fill="#fff" style="stroke:#b4b4b4;stroke-opacity:1;stroke-width:.55"/>
<path d="M554.1 202.2h10.85v12.6h-10.85a2.1 2.1 0 0 1 -2.1 -2.1v-8.4a2.1 2.1 0 0 1 2.1 -2.1z" fill="#000" fill-opacity=".035"/>
<path d="M564.95 202.2v12.6" stroke="#000" stroke-opacity=".1" stroke-width=".45"/>
<path d="M556.17 206h4.6a1 1 0 0 1 1 1v2.4a1 1 0 0 1 -1 1h-2.8l-1.6 1.4v-1.4a0.9 0.9 0 0 1 -0.9 -0.9v-2.6a1 1 0 0 1 1 -1z" fill="#fff" stroke="#ddd" stroke-width="0.7"/>
<text class="li" x="568.6" y="210.6">Glücklich</text>
<rect class="n" x="707.5" y="193.6" width="60" height="12.6" rx="2.1" fill="#fff" style="stroke:#b4b4b4;stroke-opacity:1;stroke-width:.55"/>
<path d="M709.6 193.6h10.85v12.6h-10.85a2.1 2.1 0 0 1 -2.1 -2.1v-8.4a2.1 2.1 0 0 1 2.1 -2.1z" fill="#000" fill-opacity=".035"/>
<path d="M720.45 193.6v12.6" stroke="#000" stroke-opacity=".1" stroke-width=".45"/>
<path d="M711.67 197.4h4.6a1 1 0 0 1 1 1v2.4a1 1 0 0 1 -1 1h-2.8l-1.6 1.4v-1.4a0.9 0.9 0 0 1 -0.9 -0.9v-2.6a1 1 0 0 1 1 -1z" fill="#fff" stroke="#ddd" stroke-width="0.7"/>
<text class="li" x="724.1" y="202">Happy Spiral</text>
<rect class="n" x="423" y="288.4" width="69" height="12.6" rx="2.1" fill="#fff" style="stroke:#b4b4b4;stroke-opacity:1;stroke-width:.55"/>
<path d="M425.1 288.4h10.85v12.6h-10.85a2.1 2.1 0 0 1 -2.1 -2.1v-8.4a2.1 2.1 0 0 1 2.1 -2.1z" fill="#000" fill-opacity=".035"/>
<path d="M435.94 288.4v12.6" stroke="#000" stroke-opacity=".1" stroke-width=".45"/>
<path d="M427.17 292.2h4.6a1 1 0 0 1 1 1v2.4a1 1 0 0 1 -1 1h-2.8l-1.6 1.4v-1.4a0.9 0.9 0 0 1 -0.9 -0.9v-2.6a1 1 0 0 1 1 -1z" fill="#fff" stroke="#ddd" stroke-width="0.7"/>
<text class="li" x="439.6" y="296.8">Normalzustand</text>
<rect class="n" x="673" y="288.4" width="60" height="12.6" rx="2.1" fill="#fff" style="stroke:#b4b4b4;stroke-opacity:1;stroke-width:.55"/>
<path d="M675.1 288.4h10.85v12.6h-10.85a2.1 2.1 0 0 1 -2.1 -2.1v-8.4a2.1 2.1 0 0 1 2.1 -2.1z" fill="#000" fill-opacity=".035"/>
<path d="M685.95 288.4v12.6" stroke="#000" stroke-opacity=".1" stroke-width=".45"/>
<path d="M677.17 292.2h4.6a1 1 0 0 1 1 1v2.4a1 1 0 0 1 -1 1h-2.8l-1.6 1.4v-1.4a0.9 0.9 0 0 1 -0.9 -0.9v-2.6a1 1 0 0 1 1 -1z" fill="#fff" stroke="#ddd" stroke-width="0.7"/>
<text class="li" x="689.6" y="296.8">Happy Heart</text>
<rect class="n" x="698.75" y="573.2" width="60.5" height="12.6" rx="2.1" fill="#fff" style="stroke:#b4b4b4;stroke-opacity:1;stroke-width:.55"/>
<path d="M700.85 573.2h10.85v12.6h-10.85a2.1 2.1 0 0 1 -2.1 -2.1v-8.4a2.1 2.1 0 0 1 2.1 -2.1z" fill="#000" fill-opacity=".035"/>
<path d="M711.7 573.2v12.6" stroke="#000" stroke-opacity=".1" stroke-width=".45"/>
<path d="M702.92 577h4.6a1 1 0 0 1 1 1v2.4a1 1 0 0 1 -1 1h-2.8l-1.6 1.4v-1.4a0.9 0.9 0 0 1 -0.9 -0.9v-2.6a1 1 0 0 1 1 -1z" fill="#fff" stroke="#ddd" stroke-width="0.7"/>
<text class="li" x="715.35" y="581.6">Happy Spiral</text>
<rect class="n" x="879.5" y="581.8" width="69.2" height="12.6" rx="2.1" fill="#fff" style="stroke:#b4b4b4;stroke-opacity:1;stroke-width:.55"/>
<path d="M881.6 581.8h10.85v12.6h-10.85a2.1 2.1 0 0 1 -2.1 -2.1v-8.4a2.1 2.1 0 0 1 2.1 -2.1z" fill="#000" fill-opacity=".035"/>
<path d="M892.45 581.8v12.6" stroke="#000" stroke-opacity=".1" stroke-width=".45"/>
<path d="M883.67 585.6h4.6a1 1 0 0 1 1 1v2.4a1 1 0 0 1 -1 1h-2.8l-1.6 1.4v-1.4a0.9 0.9 0 0 1 -0.9 -0.9v-2.6a1 1 0 0 1 1 -1z" fill="#fff" stroke="#ddd" stroke-width="0.7"/>
<text class="li" x="896.1" y="590.2">Normalzustand</text>
<rect x="0" y="22" width="95.4" height="627" fill="#fff"/>
<path d="M95.6 22V649" stroke="#d0d0d0" stroke-width=".6"/>
<rect class="n" x="14.5" y="52.2" width="65.5" height="15.9" rx="2.7" fill="#a6d9f8" style="stroke-width:.55"/>
<path d="M17.2 52.45h14.6v15.4h-14.6a2.7 2.7 0 0 1 -2.7 -2.7v-10a2.7 2.7 0 0 1 2.7 -2.7z" fill="#000" fill-opacity=".05"/>
<path d="M31.8 52.45v15.4" stroke="#000" stroke-opacity=".08" stroke-width=".55"/>
<path d="M19.2 57.16H28.3" stroke="#fff" stroke-width="1.23"/><rect x="24.46" y="55.86" width="1.69" height="2.6" fill="#fff"/><path d="M19.2 60.15H28.3" stroke="#fff" stroke-width="1.23"/><rect x="21.61" y="58.85" width="1.69" height="2.6" fill="#fff"/><path d="M19.2 63.14H28.3" stroke="#fff" stroke-width="1.23"/><rect x="23.69" y="61.84" width="1.69" height="2.6" fill="#fff"/>
<text class="p" x="56" y="62.65">cnv - footer</text>
<rect class="pt" x="11.2" y="57.45" width="5.4" height="5.4" rx="1.6" style="stroke-width:.55"/>
<rect class="pt" x="77.7" y="57.45" width="5.4" height="5.4" rx="1.6" style="stroke-width:.55"/>
<rect class="n" x="14.5" y="73.85" width="65.5" height="26.6" rx="2.7" fill="#a6d9f8" style="stroke-width:.55"/>
<path d="M17.2 74.1h14.6v26.1h-14.6a2.7 2.7 0 0 1 -2.7 -2.7v-20.7a2.7 2.7 0 0 1 2.7 -2.7z" fill="#000" fill-opacity=".05"/>
<path d="M31.8 74.1v26.1" stroke="#000" stroke-opacity=".08" stroke-width=".55"/>
<rect x="18.61" y="83.05" width="10.27" height="8.19" rx="0.52" fill="#fff"/><path d="M18.88 83.7L23.75 88.06L28.62 83.7" fill="none" stroke="#9dceeb" stroke-width="0.98"/>
<text class="p" x="56" y="84.3">cnv -</text>
<text class="p" x="56" y="95">sendtext</text>
<rect class="pt" x="11.2" y="84.45" width="5.4" height="5.4" rx="1.6" style="stroke-width:.55"/>
<rect class="pt" x="77.7" y="84.45" width="5.4" height="5.4" rx="1.6" style="stroke-width:.55"/>
<rect class="n" x="14.5" y="106.2" width="65.5" height="26.6" rx="2.7" fill="#a6bbcf" style="stroke-width:.55"/>
<path d="M17.2 106.45h14.6v26.1h-14.6a2.7 2.7 0 0 1 -2.7 -2.7v-20.7a2.7 2.7 0 0 1 2.7 -2.7z" fill="#000" fill-opacity=".05"/>
<path d="M31.8 106.45v26.1" stroke="#000" stroke-opacity=".08" stroke-width=".55"/>
<path d="M19.2 116.51H28.3" stroke="#fff" stroke-width="1.23"/><rect x="24.46" y="115.21" width="1.69" height="2.6" fill="#fff"/><path d="M19.2 119.5H28.3" stroke="#fff" stroke-width="1.23"/><rect x="21.61" y="118.2" width="1.69" height="2.6" fill="#fff"/><path d="M19.2 122.49H28.3" stroke="#fff" stroke-width="1.23"/><rect x="23.69" y="121.19" width="1.69" height="2.6" fill="#fff"/>
<text class="p" x="56" y="116.65">cnv - textual -</text>
<text class="p" x="56" y="127.35">slider</text>
<rect class="pt" x="11.2" y="116.8" width="5.4" height="5.4" rx="1.6" style="stroke-width:.55"/>
<rect class="pt" x="77.7" y="116.8" width="5.4" height="5.4" rx="1.6" style="stroke-width:.55"/>
<rect class="n" x="14.5" y="138.55" width="65.5" height="26.6" rx="2.7" fill="#a6bbcf" style="stroke-width:.55"/>
<path d="M17.2 138.8h14.6v26.1h-14.6a2.7 2.7 0 0 1 -2.7 -2.7v-20.7a2.7 2.7 0 0 1 2.7 -2.7z" fill="#000" fill-opacity=".05"/>
<path d="M31.8 138.8v26.1" stroke="#000" stroke-opacity=".08" stroke-width=".55"/>
<text x="23.75" y="155.23" font-size="9.62" font-weight="bold" fill="#fff" text-anchor="middle">?</text>
<text class="p" x="56" y="149">cnv -</text>
<text class="p" x="56" y="159.7">prompttext</text>
<rect class="pt" x="11.2" y="149.15" width="5.4" height="5.4" rx="1.6" style="stroke-width:.55"/>
<rect class="pt" x="77.7" y="149.15" width="5.4" height="5.4" rx="1.6" style="stroke-width:.55"/>
<rect class="n" x="14.5" y="170.9" width="65.5" height="26.6" rx="2.7" fill="#a6bbcf" style="stroke-width:.55"/>
<path d="M17.2 171.15h14.6v26.1h-14.6a2.7 2.7 0 0 1 -2.7 -2.7v-20.7a2.7 2.7 0 0 1 2.7 -2.7z" fill="#000" fill-opacity=".05"/>
<path d="M31.8 171.15v26.1" stroke="#000" stroke-opacity=".08" stroke-width=".55"/>
<circle cx="23.75" cy="184.2" r="4.68" fill="#fff"/>
<text class="p" x="56" y="181.35">cnv -</text>
<text class="p" x="56" y="192.05">buttonprompt</text>
<rect class="pt" x="11.2" y="181.5" width="5.4" height="5.4" rx="1.6" style="stroke-width:.55"/>
<rect class="pt" x="77.7" y="181.5" width="5.4" height="5.4" rx="1.6" style="stroke-width:.55"/>
<rect class="n" x="14.5" y="203.25" width="65.5" height="15.9" rx="2.7" fill="#a6bbcf" style="stroke-width:.55"/>
<path d="M17.2 203.5h14.6v15.4h-14.6a2.7 2.7 0 0 1 -2.7 -2.7v-10a2.7 2.7 0 0 1 2.7 -2.7z" fill="#000" fill-opacity=".05"/>
<path d="M31.8 203.5v15.4" stroke="#000" stroke-opacity=".08" stroke-width=".55"/>
<path d="M19.2 208.21H28.3" stroke="#fff" stroke-width="1.23"/><rect x="24.46" y="206.91" width="1.69" height="2.6" fill="#fff"/><path d="M19.2 211.2H28.3" stroke="#fff" stroke-width="1.23"/><rect x="21.61" y="209.9" width="1.69" height="2.6" fill="#fff"/><path d="M19.2 214.19H28.3" stroke="#fff" stroke-width="1.23"/><rect x="23.69" y="212.89" width="1.69" height="2.6" fill="#fff"/>
<text class="p" x="56" y="213.7">cnv - slider</text>
<rect class="pt" x="11.2" y="208.5" width="5.4" height="5.4" rx="1.6" style="stroke-width:.55"/>
<rect class="pt" x="77.7" y="208.5" width="5.4" height="5.4" rx="1.6" style="stroke-width:.55"/>
<rect class="n" x="14.5" y="224.9" width="65.5" height="26.6" rx="2.7" fill="#a6d9f8" style="stroke-width:.55"/>
<path d="M17.2 225.15h14.6v26.1h-14.6a2.7 2.7 0 0 1 -2.7 -2.7v-20.7a2.7 2.7 0 0 1 2.7 -2.7z" fill="#000" fill-opacity=".05"/>
<path d="M31.8 225.15v26.1" stroke="#000" stroke-opacity=".08" stroke-width=".55"/>
<circle cx="23.75" cy="238.2" r="3.9" fill="none" stroke="#fff" stroke-width="1.95" stroke-dasharray="22.88 1.62" transform="rotate(-70 23.75 238.2)"/>
<text class="p" x="56" y="235.35">cnv - radial -</text>
<text class="p" x="56" y="246.05">slider</text>
<rect class="pt" x="11.2" y="235.5" width="5.4" height="5.4" rx="1.6" style="stroke-width:.55"/>
<rect class="pt" x="77.7" y="235.5" width="5.4" height="5.4" rx="1.6" style="stroke-width:.55"/>
<rect class="n" x="14.5" y="257.25" width="65.5" height="26.6" rx="2.7" fill="#a6bbcf" style="stroke-width:.55"/>
<path d="M17.2 257.5h14.6v26.1h-14.6a2.7 2.7 0 0 1 -2.7 -2.7v-20.7a2.7 2.7 0 0 1 2.7 -2.7z" fill="#000" fill-opacity=".05"/>
<path d="M31.8 257.5v26.1" stroke="#000" stroke-opacity=".08" stroke-width=".55"/>
<path d="M19.2 267.56H28.3" stroke="#fff" stroke-width="1.23"/><rect x="24.46" y="266.26" width="1.69" height="2.6" fill="#fff"/><path d="M19.2 270.55H28.3" stroke="#fff" stroke-width="1.23"/><rect x="21.61" y="269.25" width="1.69" height="2.6" fill="#fff"/><path d="M19.2 273.54H28.3" stroke="#fff" stroke-width="1.23"/><rect x="23.69" y="272.24" width="1.69" height="2.6" fill="#fff"/>
<text class="p" x="56" y="267.7">cnv - textual -</text>
<text class="p" x="56" y="278.4">multislider</text>
<rect class="pt" x="11.2" y="267.85" width="5.4" height="5.4" rx="1.6" style="stroke-width:.55"/>
<rect class="pt" x="77.7" y="267.85" width="5.4" height="5.4" rx="1.6" style="stroke-width:.55"/>
<rect class="n" x="14.5" y="289.6" width="65.5" height="26.6" rx="2.7" fill="#a6bbcf" style="stroke-width:.55"/>
<path d="M17.2 289.85h14.6v26.1h-14.6a2.7 2.7 0 0 1 -2.7 -2.7v-20.7a2.7 2.7 0 0 1 2.7 -2.7z" fill="#000" fill-opacity=".05"/>
<path d="M31.8 289.85v26.1" stroke="#000" stroke-opacity=".08" stroke-width=".55"/>
<path d="M19.2 299.91H28.3" stroke="#fff" stroke-width="1.23"/><rect x="24.46" y="298.61" width="1.69" height="2.6" fill="#fff"/><path d="M19.2 302.9H28.3" stroke="#fff" stroke-width="1.23"/><rect x="21.61" y="301.6" width="1.69" height="2.6" fill="#fff"/><path d="M19.2 305.89H28.3" stroke="#fff" stroke-width="1.23"/><rect x="23.69" y="304.59" width="1.69" height="2.6" fill="#fff"/>
<text class="p" x="56" y="300.05">cnv -</text>
<text class="p" x="56" y="310.75">multislider</text>
<rect class="pt" x="11.2" y="300.2" width="5.4" height="5.4" rx="1.6" style="stroke-width:.55"/>
<rect class="pt" x="77.7" y="300.2" width="5.4" height="5.4" rx="1.6" style="stroke-width:.55"/>
<rect class="n" x="14.5" y="321.95" width="65.5" height="26.6" rx="2.7" fill="#a6d9f8" style="stroke-width:.55"/>
<path d="M17.2 322.2h14.6v26.1h-14.6a2.7 2.7 0 0 1 -2.7 -2.7v-20.7a2.7 2.7 0 0 1 2.7 -2.7z" fill="#000" fill-opacity=".05"/>
<path d="M31.8 322.2v26.1" stroke="#000" stroke-opacity=".08" stroke-width=".55"/>
<circle cx="20.95" cy="335.25" r="1.23" fill="#fff"/><circle cx="23.75" cy="335.25" r="1.23" fill="#fff"/><circle cx="26.55" cy="335.25" r="1.23" fill="#fff"/>
<text class="p" x="56" y="332.4">cnv -</text>
<text class="p" x="56" y="343.1">carousel</text>
<rect class="pt" x="11.2" y="332.55" width="5.4" height="5.4" rx="1.6" style="stroke-width:.55"/>
<rect class="pt" x="77.7" y="332.55" width="5.4" height="5.4" rx="1.6" style="stroke-width:.55"/>
<rect class="n" x="14.5" y="354.3" width="65.5" height="26.6" rx="2.7" fill="#a6bbcf" style="stroke-width:.55"/>
<path d="M17.2 354.55h14.6v26.1h-14.6a2.7 2.7 0 0 1 -2.7 -2.7v-20.7a2.7 2.7 0 0 1 2.7 -2.7z" fill="#000" fill-opacity=".05"/>
<path d="M31.8 354.55v26.1" stroke="#000" stroke-opacity=".08" stroke-width=".55"/>
<path d="M21.93 363.7V371.89M25.83 364.22C25.83 367.34 21.93 366.82 21.93 368.9" fill="none" stroke="#fff" stroke-width="1.37"/><circle cx="21.93" cy="363.83" r="1.56" fill="#fff"/><circle cx="25.83" cy="364.09" r="1.56" fill="#fff"/><circle cx="21.93" cy="371.63" r="1.56" fill="#fff"/>
<text class="p" x="56" y="364.75">cnv -</text>
<text class="p" x="56" y="375.45">multiselect</text>
<rect class="pt" x="11.2" y="364.9" width="5.4" height="5.4" rx="1.6" style="stroke-width:.55"/>
<rect class="pt" x="77.7" y="364.9" width="5.4" height="5.4" rx="1.6" style="stroke-width:.55"/>
<rect class="n" x="14.5" y="386.65" width="65.5" height="37.2" rx="2.7" fill="#a6bbcf" style="stroke-width:.55"/>
<path d="M17.2 386.9h14.6v36.7h-14.6a2.7 2.7 0 0 1 -2.7 -2.7v-31.3a2.7 2.7 0 0 1 2.7 -2.7z" fill="#000" fill-opacity=".05"/>
<path d="M31.8 386.9v36.7" stroke="#000" stroke-opacity=".08" stroke-width=".55"/>
<path d="M21.93 401.35V409.54M25.83 401.87C25.83 404.99 21.93 404.47 21.93 406.55" fill="none" stroke="#fff" stroke-width="1.37"/><circle cx="21.93" cy="401.48" r="1.56" fill="#fff"/><circle cx="25.83" cy="401.74" r="1.56" fill="#fff"/><circle cx="21.93" cy="409.28" r="1.56" fill="#fff"/>
<text class="p" x="56" y="397.05">cnv -</text>
<text class="p" x="56" y="407.75">multinumber -</text>
<text class="p" x="56" y="418.45">input</text>
<rect class="pt" x="11.2" y="402.55" width="5.4" height="5.4" rx="1.6" style="stroke-width:.55"/>
<rect class="pt" x="77.7" y="402.55" width="5.4" height="5.4" rx="1.6" style="stroke-width:.55"/>
<rect class="n" x="14.5" y="429.6" width="65.5" height="26.6" rx="2.7" fill="#a6bbcf" style="stroke-width:.55"/>
<path d="M17.2 429.85h14.6v26.1h-14.6a2.7 2.7 0 0 1 -2.7 -2.7v-20.7a2.7 2.7 0 0 1 2.7 -2.7z" fill="#000" fill-opacity=".05"/>
<path d="M31.8 429.85v26.1" stroke="#000" stroke-opacity=".08" stroke-width=".55"/>
<path d="M21.93 439V447.19M25.83 439.52C25.83 442.64 21.93 442.12 21.93 444.2" fill="none" stroke="#fff" stroke-width="1.37"/><circle cx="21.93" cy="439.13" r="1.56" fill="#fff"/><circle cx="25.83" cy="439.39" r="1.56" fill="#fff"/><circle cx="21.93" cy="446.93" r="1.56" fill="#fff"/>
<text class="p" x="56" y="440.05">cnv -</text>
<text class="p" x="56" y="450.75">singleselect</text>
<rect class="pt" x="11.2" y="440.2" width="5.4" height="5.4" rx="1.6" style="stroke-width:.55"/>
<rect class="pt" x="77.7" y="440.2" width="5.4" height="5.4" rx="1.6" style="stroke-width:.55"/>
<rect class="n" x="14.5" y="461.95" width="65.5" height="26.6" rx="2.7" fill="#a6bbcf" style="stroke-width:.55"/>
<path d="M17.2 462.2h14.6v26.1h-14.6a2.7 2.7 0 0 1 -2.7 -2.7v-20.7a2.7 2.7 0 0 1 2.7 -2.7z" fill="#000" fill-opacity=".05"/>
<path d="M31.8 462.2v26.1" stroke="#000" stroke-opacity=".08" stroke-width=".55"/>
<path d="M20.37 475.51v2.86q0 1.56 1.56 1.56h4.68q1.56 0 1.56 -1.56v-3.38q0 -1.3 -1.3 -1.3h-3.12v-3.38q0 -1.17 -1.17 -1.17q-1.17 0 -1.17 1.17z" fill="none" stroke="#fff" stroke-width="1.04" stroke-linejoin="round"/>
<text class="p" x="56" y="472.4">cnv -</text>
<text class="p" x="56" y="483.1">draganddrop</text>
<rect class="pt" x="11.2" y="472.55" width="5.4" height="5.4" rx="1.6" style="stroke-width:.55"/>
<rect class="pt" x="77.7" y="472.55" width="5.4" height="5.4" rx="1.6" style="stroke-width:.55"/>
<rect class="n" x="14.5" y="494.3" width="65.5" height="26.6" rx="2.7" fill="#a6bbcf" style="stroke-width:.55"/>
<path d="M17.2 494.55h14.6v26.1h-14.6a2.7 2.7 0 0 1 -2.7 -2.7v-20.7a2.7 2.7 0 0 1 2.7 -2.7z" fill="#000" fill-opacity=".05"/>
<path d="M31.8 494.55v26.1" stroke="#000" stroke-opacity=".08" stroke-width=".55"/>
<rect x="19.07" y="503.44" width="9.36" height="6.24" rx="0.65" fill="none" stroke="#fff" stroke-width="1.43"/><path d="M22.58 510.07L24.92 510.07L26.22 512.28L21.28 512.28Z" fill="#fff"/>
<text class="p" x="56" y="504.75">cnv -</text>
<text class="p" x="56" y="515.45">splashscreen</text>
<rect class="pt" x="11.2" y="504.9" width="5.4" height="5.4" rx="1.6" style="stroke-width:.55"/>
<rect class="pt" x="77.7" y="504.9" width="5.4" height="5.4" rx="1.6" style="stroke-width:.55"/>
<rect class="n" x="14.5" y="526.65" width="65.5" height="26.6" rx="2.7" fill="#a6bbcf" style="stroke-width:.55"/>
<path d="M17.2 526.9h14.6v26.1h-14.6a2.7 2.7 0 0 1 -2.7 -2.7v-20.7a2.7 2.7 0 0 1 2.7 -2.7z" fill="#000" fill-opacity=".05"/>
<path d="M31.8 526.9v26.1" stroke="#000" stroke-opacity=".08" stroke-width=".55"/>
<circle cx="23.75" cy="539.95" r="3.77" fill="none" stroke="#fff" stroke-width="1.56" stroke-dasharray="1.3 1.66"/>
<text class="p" x="56" y="537.1">cnv -</text>
<text class="p" x="56" y="547.8">resultloader</text>
<rect class="pt" x="11.2" y="537.25" width="5.4" height="5.4" rx="1.6" style="stroke-width:.55"/>
<rect class="pt" x="77.7" y="537.25" width="5.4" height="5.4" rx="1.6" style="stroke-width:.55"/>
<rect class="n" x="14.5" y="559" width="65.5" height="26.6" rx="2.7" fill="#a6bbcf" style="stroke-width:.55"/>
<path d="M17.2 559.25h14.6v26.1h-14.6a2.7 2.7 0 0 1 -2.7 -2.7v-20.7a2.7 2.7 0 0 1 2.7 -2.7z" fill="#000" fill-opacity=".05"/>
<path d="M31.8 559.25v26.1" stroke="#000" stroke-opacity=".08" stroke-width=".55"/>
<path d="M19.46 569.25h8.58" stroke="#fff" stroke-width="1.76"/><path d="M19.46 572.3h8.58" stroke="#fff" stroke-width="1.76"/><path d="M19.46 575.36h8.58" stroke="#fff" stroke-width="1.76"/>
<text class="p" x="56" y="569.45">cnv -</text>
<text class="p" x="56" y="580.15">tabsscreen</text>
<rect class="pt" x="11.2" y="569.6" width="5.4" height="5.4" rx="1.6" style="stroke-width:.55"/>
<rect class="pt" x="77.7" y="569.6" width="5.4" height="5.4" rx="1.6" style="stroke-width:.55"/>
<rect class="n" x="14.5" y="591.35" width="65.5" height="26.6" rx="2.7" fill="#a6d9f8" style="stroke-width:.55"/>
<path d="M17.2 591.6h14.6v26.1h-14.6a2.7 2.7 0 0 1 -2.7 -2.7v-20.7a2.7 2.7 0 0 1 2.7 -2.7z" fill="#000" fill-opacity=".05"/>
<path d="M31.8 591.6v26.1" stroke="#000" stroke-opacity=".08" stroke-width=".55"/>
<path d="M20.11 600.1h4.68l2.6 2.6v6.5h-7.28z" fill="none" stroke="#fff" stroke-width="1.04" stroke-linejoin="round"/><path d="M21.15 608.03l1.82 -2.34l1.17 1.17l1.3 -2.08l1.17 2.08v1.17h-5.46z" fill="#fff"/><circle cx="22.19" cy="603.35" r="0.91" fill="#fff"/>
<text class="p" x="56" y="601.8">cnv -</text>
<text class="p" x="56" y="612.5">imagetext</text>
<rect class="pt" x="11.2" y="601.95" width="5.4" height="5.4" rx="1.6" style="stroke-width:.55"/>
<rect class="pt" x="77.7" y="601.95" width="5.4" height="5.4" rx="1.6" style="stroke-width:.55"/>
<rect class="n" x="14.5" y="623.7" width="65.5" height="26.6" rx="2.7" fill="#a6bbcf" style="stroke-width:.55"/>
<path d="M17.2 623.95h14.6v26.1h-14.6a2.7 2.7 0 0 1 -2.7 -2.7v-20.7a2.7 2.7 0 0 1 2.7 -2.7z" fill="#000" fill-opacity=".05"/>
<path d="M31.8 623.95v26.1" stroke="#000" stroke-opacity=".08" stroke-width=".55"/>
<path d="M19.07 635.83L23.23 631.93V634.14Q28.43 634.14 28.43 641.42Q27.13 637.65 23.23 637.65V639.73Z" fill="#fff"/>
<text class="p" x="56" y="634.15">cnv -</text>
<text class="p" x="56" y="644.85">textreply</text>
<rect class="pt" x="11.2" y="634.3" width="5.4" height="5.4" rx="1.6" style="stroke-width:.55"/>
<rect class="pt" x="77.7" y="634.3" width="5.4" height="5.4" rx="1.6" style="stroke-width:.55"/>
<rect x="0" y="22" width="1024" height="19" fill="#fff"/>
<path d="M0 41.2H108.6M215.6 41.2H1024" stroke="#d4d4d4" stroke-width=".6"/>
<path d="M95.6 22V41.2" stroke="#d4d4d4" stroke-width=".6"/>
<path d="M108.6 41.2V24.5H215.6V41.2" fill="#fff" stroke="#d4d4d4" stroke-width=".6"/>
<text x="115.6" y="35.6" font-size="7.5" font-weight="bold" fill="#555">OSA Modul</text>
<circle cx="6.7" cy="32" r="1.7" fill="none" stroke="#aaa" stroke-width=".8"/><path d="M7.9 33.3L9.4 34.9" stroke="#aaa" stroke-width=".9"/>
<text x="12.5" y="35.1" font-size="7.6" fill="#a9a9a9" stroke="#a9a9a9" stroke-width=".12">filter nodes</text>
<path d="M995.6 32.3h5.8M998.5 29.4v5.8" stroke="#666" stroke-width="1.1"/>
<path d="M1013.9 31.4h3.8l-1.9 2.2z" fill="#666"/>
<rect x="0" y="0" width="1024" height="22" fill="#000"/>
<rect x="0" y="0" width="1024" height="1" fill="#8a8a8a"/>
<path d="M16 12.9h3.5c3 0 2.4 -3.2 5 -3.2M19.3 12.9c3.2 0 3.6 3 7.8 3" fill="none" stroke="#ddd" stroke-width=".8"/>
<rect x="9.1" y="11" width="7.2" height="3.8" rx="1.3" fill="#b8383b" stroke="#e49a9a" stroke-width=".55"/>
<rect x="23" y="8" width="7" height="3.6" rx="1.3" fill="#b8383b" stroke="#e49a9a" stroke-width=".55"/>
<rect x="27" y="13.9" width="7.8" height="4" rx="1.3" fill="#b8383b" stroke="#e49a9a" stroke-width=".55"/>
<text x="37.4" y="16.1" font-size="8.7" fill="#eee" stroke="#eee" stroke-width=".15">Node-RED</text>
<rect x="0" y="648.2" width="1024" height=".8" fill="#ddd"/>
</g>
</svg>
</body></html>
